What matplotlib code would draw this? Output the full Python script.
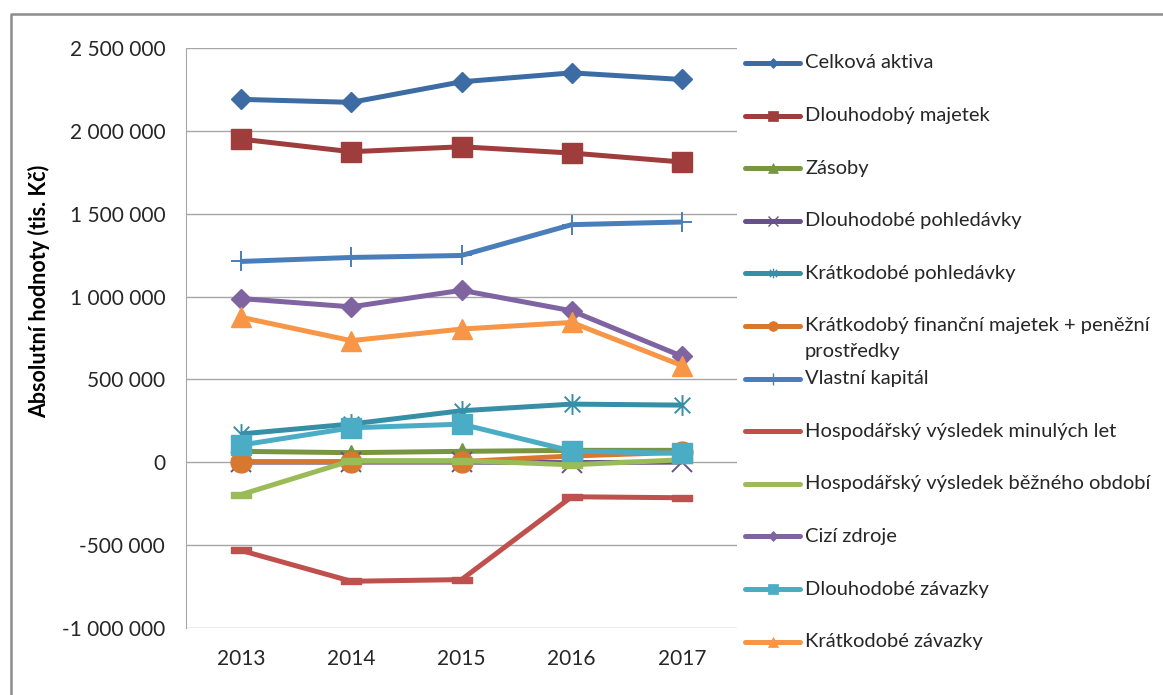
#!/usr/bin/env python3
"""
Absolutni hodnoty rozvahovych polozek 2013-2017 (tis. Kc)
"""
import numpy as np
import matplotlib.pyplot as plt
from matplotlib.lines import Line2D
from matplotlib.path import Path
from matplotlib.ticker import FuncFormatter, MultipleLocator

plt.rcParams['font.family'] = ['Lato', 'DejaVu Sans']

years = ["2013", "2014", "2015", "2016", "2017"]

celkova_aktiva = [2190000, 2172000, 2296000, 2350000, 2310000]
dlouhodoby_majetek = [1950000, 1874000, 1904000, 1866000, 1812000]
zasoby = [66000, 58000, 66000, 72000, 72000]
dlouhodobe_pohledavky = [1000, 1000, 1000, -2000, 1000]
kratkodobe_pohledavky = [171000, 231000, 311000, 351000, 345000]
kratkodoby_fin_majetek = [4000, 4000, 4000, 38000, 60000]
vlastni_kapital = [1212000, 1236000, 1248000, 1434000, 1450000]
hv_minulych_let = [-532000, -718000, -708000, -208000, -214000]
hv_bezneho_obdobi = [-195000, 10000, 10000, -15000, 15000]
cizi_zdroje = [988000, 938000, 1038000, 914000, 640000]
dlouhodobe_zavazky = [104000, 208000, 230000, 68000, 54000]
kratkodobe_zavazky = [875000, 734000, 804000, 844000, 584000]

# asterisk marker: vertical bar + X
star = Path([(0, -1), (0, 1), (-0.75, -0.75), (0.75, 0.75), (-0.75, 0.75), (0.75, -0.75)],
            [Path.MOVETO, Path.LINETO, Path.MOVETO, Path.LINETO, Path.MOVETO, Path.LINETO])
# flat dash marker
dash = [(-1, -0.26), (1, -0.26), (1, 0.26), (-1, 0.26), (-1, -0.26)]

# label, values, color, marker, size, legend size
series = [
    ("Celková aktiva", celkova_aktiva, "#3D6BA3", "D", 10.5, 5),
    ("Dlouhodobý majetek", dlouhodoby_majetek, "#9E3D3B", "s", 14.5, 7),
    ("Zásoby", zasoby, "#789541", "^", 11, 7),
    ("Dlouhodobé pohledávky", dlouhodobe_pohledavky, "#67518C", "x", 14, 7),
    ("Krátkodobé pohledávky", kratkodobe_pohledavky, "#368FA6", star, 15, 7),
    ("Krátkodobý finanční majetek + peněžní\nprostředky", kratkodoby_fin_majetek, "#D8782F", "o", 15, 7),
    ("Vlastní kapitál", vlastni_kapital, "#4A7EBB", "+", 14.5, 8),
    ("Hospodářský výsledek minulých let", hv_minulych_let, "#C0504D", dash, 14.5, 0),
    ("Hospodářský výsledek běžného období", hv_bezneho_obdobi, "#9BBB59", dash, 14.5, 0),
    ("Cizí zdroje", cizi_zdroje, "#8064A2", "D", 10.5, 5),
    ("Dlouhodobé závazky", dlouhodobe_zavazky, "#4BACC6", "s", 14.5, 7),
    ("Krátkodobé závazky", kratkodobe_zavazky, "#F79646", "^", 15, 7),
]

W, H = 1163, 695
fig = plt.figure(figsize=(W / 100, H / 100), dpi=100)
ax = fig.add_axes([186 / W, 1 - 628 / H, (737 - 186) / W, (628 - 48) / H])

x = np.arange(len(years))
for label, vals, col, mk, ms, lms in series:
    lined = mk in ("x", "+") or isinstance(mk, Path)
    ax.plot(x, vals, color=col, lw=3.6, marker=mk, ms=ms,
            mec=col, mfc=col, mew=1.4 if lined else 1.0, solid_capstyle="butt")

ax.set_xlim(-0.5, len(years) - 0.5)
ax.set_ylim(-1000000, 2500000)
ax.yaxis.set_major_locator(MultipleLocator(500000))
ax.yaxis.set_major_formatter(FuncFormatter(lambda v, p: f"{int(v):,}".replace(",", " ")))
ax.set_xticks(x, years)
ax.grid(axis="y", color="#A6A6A6", lw=1.0)
ax.set_axisbelow(True)
for s in ("top", "right", "bottom"):
    ax.spines[s].set_visible(False)
ax.spines["left"].set_color("#A6A6A6")
ax.tick_params(axis="y", length=0, pad=15, labelsize=15, colors="#262626")
ax.tick_params(axis="x", length=0, pad=15, labelsize=15, colors="#262626")
ax.set_ylabel("Absolutní hodnoty (tis. Kč)", fontsize=15.5, fontweight="bold")
ax.yaxis.set_label_coords(50 / W, 1 - 291 / H, transform=fig.transFigure)

# legend on the right, drawn entry by entry
for i, (label, vals, col, mk, ms, lms) in enumerate(series):
    yp = 1 - (63 + 52.6 * i) / H
    lined = mk in ("x", "+") or isinstance(mk, Path)
    fig.add_artist(Line2D([745 / W, 800 / W], [yp, yp], transform=fig.transFigure,
                          color=col, lw=3.6, solid_capstyle="round"))
    if lms:
        fig.add_artist(Line2D([772.5 / W], [yp], transform=fig.transFigure, color=col,
                              marker=mk, ms=lms, mec=col, mfc=col, mew=1.0 if lined else 0.5))
    lines = label.split("\n")
    for j, part in enumerate(lines):
        fig.text(805 / W, yp - 26 * j / H, part, fontsize=14.5, color="#262626", va="center")

# outer chart border
fig.add_artist(Line2D([11 / W, 11 / W, 1], [0, 1 - 14 / H, 1 - 14 / H],
                      transform=fig.transFigure, color="#8C8C8C", lw=1.8))

fig.savefig("out.png", dpi=100)
